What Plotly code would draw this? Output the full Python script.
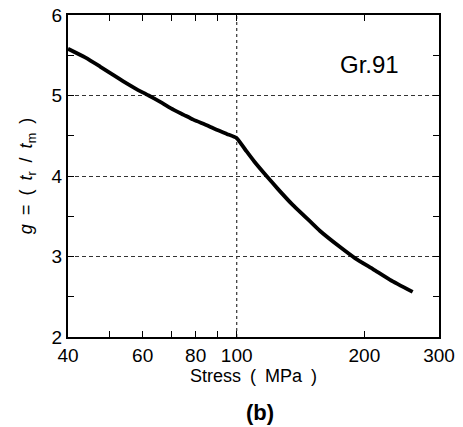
import plotly.graph_objects as go

# Data
stress = [40, 44, 47.6, 51, 55, 58, 62, 66, 70, 75, 79, 85, 90, 95, 100,
          105, 110, 118, 125, 135, 150, 157, 175, 190, 210, 230, 260]
g_vals = [5.58, 5.47, 5.36, 5.26, 5.15, 5.08, 5.00, 4.92, 4.84, 4.76, 4.70, 4.63, 4.57, 4.52, 4.47,
          4.32, 4.18, 3.99, 3.84, 3.65, 3.42, 3.32, 3.12, 2.98, 2.84, 2.71, 2.56]

x_tickvals = [40, 60, 80, 100, 200, 300]
x_ticktext = ["40", "60", "80", "100", "200", "300"]
x_minor = [50, 70, 90]
y_tickvals = [2, 3, 4, 5, 6]
grid_x = [100]

font_fam = "Liberation Sans, Arial, sans-serif"

fig = go.Figure()
fig.add_trace(go.Scatter(x=stress, y=g_vals, mode="lines",
                         line=dict(color="black", width=3.8, shape="spline", smoothing=0.5),
                         showlegend=False, hoverinfo="skip"))

for gx in grid_x:
    fig.add_shape(type="line", xref="x", yref="paper", x0=gx, x1=gx, y0=0, y1=1,
                  line=dict(color="#333", width=1.2, dash="3px,3px"), layer="below")

fig.update_layout(
    width=463, height=427,
    margin=dict(l=60, r=32, t=7, b=98, autoexpand=False),
    paper_bgcolor="white", plot_bgcolor="white",
    font=dict(family=font_fam, color="black"),
    xaxis=dict(type="log", range=[1.60206, 2.47712], automargin=False,
               tickmode="array", tickvals=x_tickvals, ticktext=x_ticktext,
               ticks="inside", ticklen=6, tickwidth=1, tickcolor="black",
               minor=dict(tickmode="array", tickvals=x_minor, ticks="inside", ticklen=6, tickcolor="black"),
               showgrid=False, zeroline=False, ticklabeloverflow="allow",
               showline=True, linecolor="black", linewidth=2, mirror="ticks",
               tickfont=dict(size=19),
               title=dict(text="Stress\u2002(\u2002MPa\u2002)", font=dict(size=18), standoff=2)),
    yaxis=dict(range=[2, 6], tickmode="array", tickvals=y_tickvals, automargin=False,
               ticks="inside", ticklen=6, tickwidth=1, tickcolor="black",
               minor=dict(dtick=0.5, ticks="inside", ticklen=6, tickcolor="black", showgrid=False),
               showgrid=True, gridcolor="#333", gridwidth=1.2, griddash="4px,3px",
               zeroline=False, ticklabeloverflow="allow",
               showline=True, linecolor="black", linewidth=2, mirror="ticks",
               tickfont=dict(size=19),
               title=dict(text="<i>g</i>\u2002=\u2002(\u2002<i>t</i><sub>r</sub>\u2002/\u2002<i>t</i><sub>m</sub>\u2002)",
                          font=dict(size=18), standoff=14)),
    annotations=[
        dict(text="Gr.91", xref="paper", yref="paper", x=0.898, y=0.845,
             showarrow=False, xanchor="right", yanchor="middle",
             font=dict(size=24, family=font_fam)),
        dict(text="<b>(b)</b>", xref="paper", yref="paper", x=0.5175, y=-0.236,
             showarrow=False, xanchor="center", yanchor="middle",
             font=dict(size=22, family=font_fam)),
    ],
)

fig.write_html("out.html")
